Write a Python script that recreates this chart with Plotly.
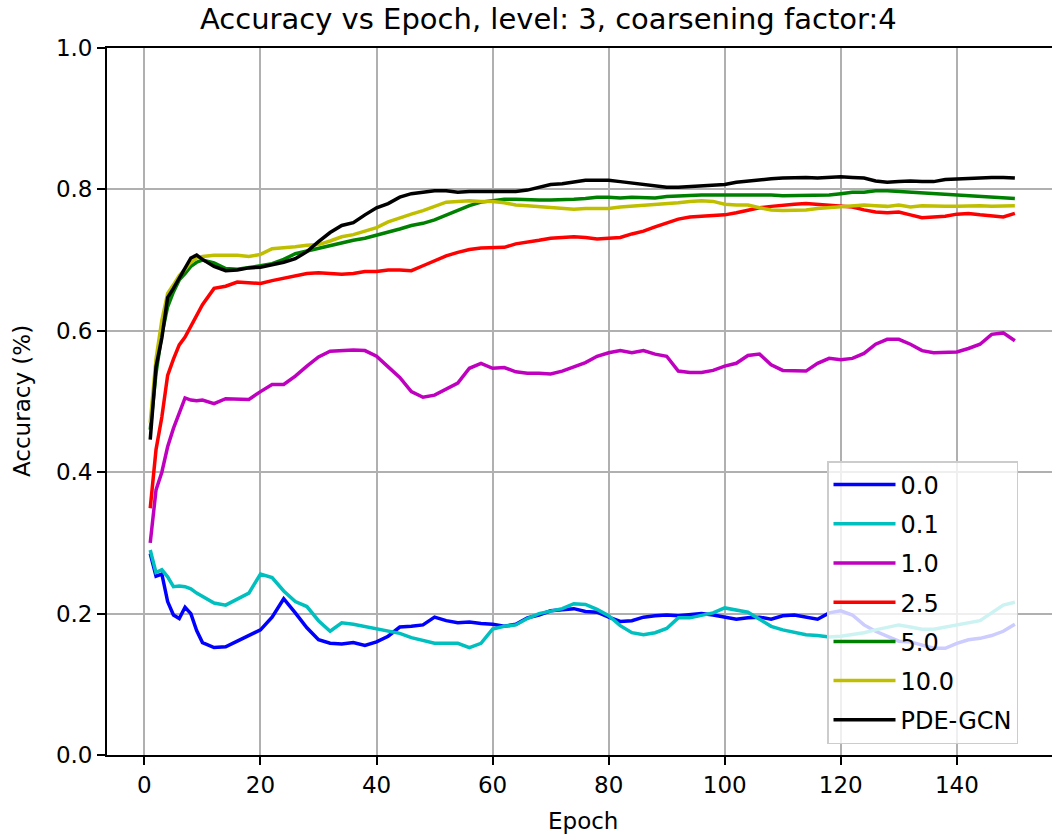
import plotly.graph_objects as go

EPOCHS = list(range(1, 11)) + list(range(12, 151, 2))

ACC_0_0 = [0.285, 0.253, 0.256, 0.217, 0.198, 0.193, 0.209, 0.200, 0.176, 0.159,
           0.152, 0.153, 0.161, 0.169, 0.177, 0.195, 0.221, 0.201, 0.180, 0.163,
           0.158, 0.157, 0.159, 0.155, 0.160, 0.168, 0.181, 0.182, 0.184, 0.195,
           0.190, 0.187, 0.188, 0.186, 0.185, 0.182, 0.185, 0.194, 0.198, 0.204,
           0.205, 0.207, 0.203, 0.202, 0.195, 0.189, 0.190, 0.195, 0.197, 0.198,
           0.197, 0.199, 0.200, 0.198, 0.195, 0.192, 0.194, 0.195, 0.192, 0.197,
           0.198, 0.195, 0.192, 0.201, 0.204, 0.198, 0.184, 0.175, 0.168, 0.161,
           0.160, 0.156, 0.151, 0.151, 0.158, 0.163, 0.165, 0.169, 0.175, 0.185]

ACC_0_1 = [0.290, 0.258, 0.262, 0.252, 0.238, 0.239, 0.238, 0.235, 0.229, 0.224,
           0.215, 0.212, 0.220, 0.229, 0.256, 0.251, 0.232, 0.217, 0.210, 0.190,
           0.175, 0.187, 0.185, 0.182, 0.178, 0.176, 0.172, 0.166, 0.162, 0.158,
           0.158, 0.158, 0.152, 0.158, 0.178, 0.182, 0.184, 0.193, 0.200, 0.203,
           0.207, 0.214, 0.213, 0.206, 0.197, 0.183, 0.173, 0.170, 0.173, 0.179,
           0.194, 0.194, 0.197, 0.201, 0.208, 0.205, 0.202, 0.192, 0.182, 0.177,
           0.173, 0.170, 0.169, 0.167, 0.168, 0.170, 0.173, 0.177, 0.180, 0.184,
           0.181, 0.178, 0.178, 0.181, 0.185, 0.187, 0.190, 0.201, 0.212, 0.216]

ACC_1_0 = [0.300, 0.375, 0.400, 0.436, 0.462, 0.485, 0.505, 0.502, 0.501, 0.502,
           0.497, 0.504, 0.504, 0.503, 0.514, 0.524, 0.524, 0.536, 0.550, 0.563,
           0.571, 0.572, 0.573, 0.572, 0.564, 0.549, 0.534, 0.514, 0.506, 0.509,
           0.517, 0.526, 0.547, 0.554, 0.547, 0.548, 0.542, 0.540, 0.540, 0.539,
           0.543, 0.549, 0.555, 0.564, 0.569, 0.572, 0.569, 0.572, 0.567, 0.564,
           0.543, 0.541, 0.541, 0.544, 0.550, 0.554, 0.565, 0.567, 0.552, 0.544,
           0.544, 0.543, 0.554, 0.561, 0.559, 0.561, 0.568, 0.581, 0.588, 0.588,
           0.581, 0.572, 0.569, 0.570, 0.570, 0.575, 0.581, 0.595, 0.597, 0.586]

ACC_2_5 = [0.349, 0.432, 0.478, 0.537, 0.560, 0.580, 0.591, 0.606, 0.622, 0.637,
           0.660, 0.663, 0.669, 0.668, 0.667, 0.671, 0.674, 0.678, 0.681, 0.682,
           0.681, 0.680, 0.681, 0.684, 0.684, 0.686, 0.686, 0.685, 0.692, 0.699,
           0.706, 0.711, 0.715, 0.717, 0.718, 0.718, 0.723, 0.725, 0.728, 0.731,
           0.732, 0.733, 0.732, 0.730, 0.731, 0.732, 0.737, 0.741, 0.747, 0.753,
           0.758, 0.761, 0.762, 0.763, 0.764, 0.767, 0.771, 0.774, 0.776, 0.778,
           0.779, 0.780, 0.779, 0.778, 0.777, 0.775, 0.771, 0.768, 0.767, 0.768,
           0.764, 0.760, 0.761, 0.762, 0.765, 0.766, 0.764, 0.763, 0.761, 0.766]

ACC_5_0 = [0.460, 0.540, 0.595, 0.634, 0.655, 0.672, 0.681, 0.691, 0.697, 0.700,
           0.696, 0.688, 0.687, 0.689, 0.692, 0.695, 0.701, 0.709, 0.713, 0.717,
           0.720, 0.725, 0.728, 0.731, 0.735, 0.739, 0.744, 0.749, 0.752, 0.757,
           0.764, 0.771, 0.777, 0.782, 0.784, 0.786, 0.786, 0.785, 0.785, 0.785,
           0.785, 0.786, 0.787, 0.789, 0.789, 0.788, 0.789, 0.789, 0.788, 0.790,
           0.791, 0.792, 0.792, 0.792, 0.792, 0.792, 0.793, 0.793, 0.792, 0.791,
           0.791, 0.792, 0.792, 0.792, 0.794, 0.796, 0.796, 0.798, 0.798, 0.797,
           0.796, 0.796, 0.794, 0.793, 0.793, 0.792, 0.791, 0.790, 0.789, 0.787]

ACC_10_0 = [0.470, 0.560, 0.615, 0.653, 0.665, 0.678, 0.687, 0.697, 0.703, 0.705,
            0.707, 0.707, 0.707, 0.705, 0.708, 0.716, 0.717, 0.719, 0.721, 0.722,
            0.727, 0.733, 0.736, 0.741, 0.746, 0.754, 0.760, 0.765, 0.770, 0.776,
            0.782, 0.783, 0.784, 0.783, 0.783, 0.781, 0.778, 0.777, 0.776, 0.774,
            0.773, 0.772, 0.773, 0.773, 0.773, 0.775, 0.776, 0.777, 0.779, 0.780,
            0.781, 0.783, 0.784, 0.783, 0.779, 0.778, 0.778, 0.774, 0.771, 0.770,
            0.770, 0.771, 0.773, 0.774, 0.775, 0.777, 0.778, 0.777, 0.776, 0.778,
            0.775, 0.777, 0.776, 0.776, 0.776, 0.777, 0.777, 0.776, 0.777, 0.777]

ACC_PDE_GCN = [0.446, 0.549, 0.590, 0.647, 0.660, 0.674, 0.689, 0.703, 0.707, 0.701,
               0.691, 0.685, 0.686, 0.689, 0.690, 0.693, 0.697, 0.702, 0.712, 0.726,
               0.739, 0.749, 0.753, 0.764, 0.774, 0.780, 0.789, 0.794, 0.796, 0.798,
               0.798, 0.796, 0.797, 0.797, 0.796, 0.796, 0.797, 0.799, 0.803, 0.807,
               0.808, 0.810, 0.813, 0.813, 0.813, 0.811, 0.809, 0.807, 0.805, 0.803,
               0.803, 0.804, 0.804, 0.805, 0.807, 0.810, 0.812, 0.813, 0.815, 0.816,
               0.817, 0.817, 0.816, 0.817, 0.818, 0.817, 0.816, 0.812, 0.810, 0.811,
               0.812, 0.811, 0.811, 0.814, 0.815, 0.816, 0.816, 0.817, 0.817, 0.816]

SERIES_NAMES = ["0.0", "0.1", "1.0", "2.5", "5.0", "10.0", "PDE-GCN"]
SERIES_VALUES = [ACC_0_0, ACC_0_1, ACC_1_0, ACC_2_5, ACC_5_0, ACC_10_0, ACC_PDE_GCN]
SERIES_COLORS = ["#0000ff", "#00bfbf", "#bf00bf", "#ff0000", "#008000", "#bfbf00", "#000000"]

X_TICKS = [0, 20, 40, 60, 80, 100, 120, 140]
Y_TICKS = [0.0, 0.2, 0.4, 0.6, 0.8, 1.0]

TITLE = "Accuracy vs Epoch, level: 3, coarsening factor:4"
X_LABEL = "Epoch"
Y_LABEL = "Accuracy (%)"

FONT = "DejaVu Sans"
W, H = 1052, 840
L, R, T, B = 107, 0, 48, 85
PW, PH = W - L - R, H - T - B

fig = go.Figure()
for name, vals, col in zip(SERIES_NAMES, SERIES_VALUES, SERIES_COLORS):
    fig.add_trace(go.Scatter(x=EPOCHS, y=vals, mode="lines", name=name,
                             line=dict(color=col, width=3.5), legendgroup=name))


def px_x(p):
    return (p - L) / PW


def px_y(p):
    return (H - B - p) / PH


axis_common = dict(showgrid=True, gridcolor="#b0b0b0", gridwidth=1.8,
                   showline=True, linecolor="black", linewidth=1.8,
                   ticks="outside", ticklen=8, tickwidth=1.8, tickcolor="black",
                   zeroline=False, automargin=False,
                   tickfont=dict(family=FONT, size=23, color="black"))

fig.update_layout(
    width=W, height=H, margin=dict(l=L, r=R, t=T, b=B, autoexpand=False),
    paper_bgcolor="white", plot_bgcolor="white",
    font=dict(family=FONT, color="black"),
    xaxis=dict(range=[-6.45, 156.4], tickvals=X_TICKS, mirror=True, **axis_common),
    yaxis=dict(range=[0, 1], tickvals=Y_TICKS, tickformat=".1f", mirror=False, **axis_common),
    showlegend=True,
    legend=dict(x=px_x(827), y=px_y(461), xanchor="left", yanchor="top",
                bgcolor="rgba(255,255,255,0.8)", bordercolor="#cccccc", borderwidth=1.5,
                font=dict(family=FONT, size=24, color="black"), tracegroupgap=5,
                itemwidth=62, entrywidth=125, entrywidthmode="pixels"),
    annotations=[
        dict(text=TITLE, x=px_x(548), y=px_y(19), xref="paper", yref="paper",
             xanchor="center", yanchor="middle", showarrow=False,
             font=dict(family=FONT, size=29, color="black")),
        dict(text=X_LABEL, x=px_x(583), y=px_y(821), xref="paper", yref="paper",
             xanchor="center", yanchor="middle", showarrow=False,
             font=dict(family=FONT, size=23, color="black")),
        dict(text=Y_LABEL, x=px_x(22), y=px_y(401), xref="paper", yref="paper",
             xanchor="center", yanchor="middle", showarrow=False, textangle=-90,
             font=dict(family=FONT, size=23, color="black")),
    ],
)

fig.write_html("out.html", config={"displayModeBar": False},
               post_script="document.body.style.margin='0px';document.body.style.padding='0px';")
